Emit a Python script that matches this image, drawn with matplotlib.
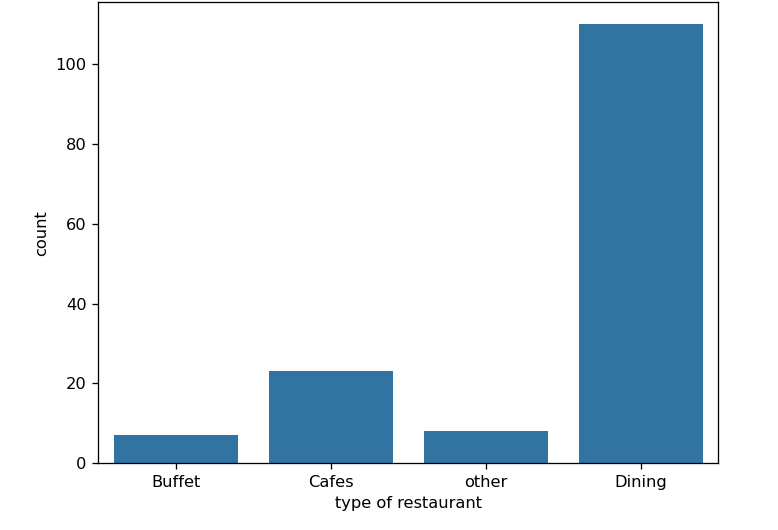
import matplotlib
matplotlib.use('Agg')
import matplotlib.pyplot as plt

# counts per restaurant type
categories = ['Buffet', 'Cafes', 'other', 'Dining']
counts = [7, 23, 8, 110]

# reference looks like a default figure scaled up ~1.17x
s = 1.17
plt.rcParams.update({
    'font.size': 10 * s,
    'axes.linewidth': 0.8 * s,
    'xtick.major.size': 3.5 * s,
    'ytick.major.size': 3.5 * s,
    'xtick.major.width': 0.8 * s,
    'ytick.major.width': 0.8 * s,
    'xtick.major.pad': 3.5 * s,
    'ytick.major.pad': 3.5 * s,
    'axes.labelpad': 4 * s,
})

fig = plt.figure(figsize=(7.78, 5.3), dpi=100)
ax = fig.add_axes([0.126, 0.126, 0.797, 0.870])

ax.bar(range(len(categories)), counts, width=0.8, color='#3274a1')
ax.set_xticks(range(len(categories)))
ax.set_xticklabels(categories)
ax.set_xlim(-0.5, len(categories) - 0.5)
ax.set_ylim(0, 115.5)
ax.set_xlabel('type of restaurant')
ax.set_ylabel('count')

fig.savefig('out.png', dpi=100)
